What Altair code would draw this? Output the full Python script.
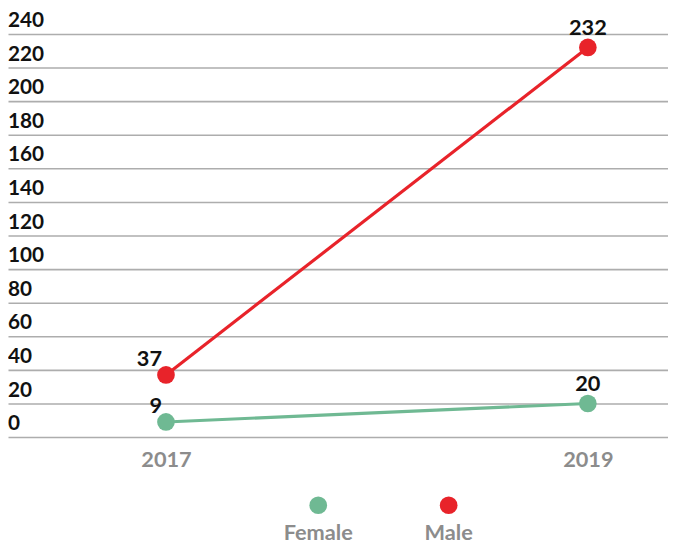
import altair as alt
import pandas as pd

years = [2017, 2019]
female = [9, 20]
male = [37, 232]
series = ["Female", "Male"]
y_ticks = [0, 20, 40, 60, 80, 100, 120, 140, 160, 180, 200, 220, 240]

GREEN = "#6fb993"
RED = "#e8232a"
FONT = "Lato"

df = pd.DataFrame(
    [{"year": y, "value": v, "series": "Female"} for y, v in zip(years, female)]
    + [{"year": y, "value": v, "series": "Male"} for y, v in zip(years, male)]
)
tick_df = pd.DataFrame({"value": y_ticks})
leg_df = pd.DataFrame({"series": series})

color = alt.Color("series:N", scale=alt.Scale(domain=series, range=[GREEN, RED]), legend=None)
x = alt.X(
    "year:Q",
    scale=alt.Scale(domain=[2016.251, 2019.38], nice=False, zero=False),
    axis=alt.Axis(values=years, format="d", title=None, grid=False, domain=False, ticks=False,
                  labelFont=FONT, labelFontSize=22, labelFontWeight="bold", labelColor="#8c8c8c",
                  labelPadding=13),
)
y = alt.Y(
    "value:Q",
    scale=alt.Scale(domain=[0, 240], nice=False),
    axis=alt.Axis(values=y_ticks, grid=True, labels=False, ticks=False, domain=False, title=None,
                  gridColor="#adadad", gridWidth=1.6),
)

base = alt.Chart(df)
lines = base.mark_line(strokeWidth=3.2).encode(x=x, y=y, color=color)
points = base.mark_circle(size=320, opacity=1).encode(x=x, y=y, color=color)
lab_a = base.transform_filter("datum.year == 2017").mark_text(
    align="right", baseline="alphabetic", dx=-4, dy=-9, font=FONT, fontSize=22, fontWeight="bold", color="#111111"
).encode(x=x, y=y, text="value:Q")
lab_b = base.transform_filter("datum.year == 2019").mark_text(
    align="center", baseline="alphabetic", dy=-13, font=FONT, fontSize=22, fontWeight="bold", color="#111111"
).encode(x=x, y=y, text="value:Q")
ylabels = alt.Chart(tick_df).mark_text(
    align="left", baseline="alphabetic", dy=-7, font=FONT, fontSize=21, fontWeight="bold", color="#111111"
).encode(x=alt.value(0), y=y, text="value:Q")

main = alt.layer(lines, points, lab_a, lab_b, ylabels)

leg_x = alt.X("series:N", scale=alt.Scale(domain=series, range=[314, 446], padding=0), axis=None)
leg_pts = alt.Chart(leg_df).mark_circle(size=320, opacity=1).encode(x=leg_x, y=alt.value(477), color=color)
leg_txt = alt.Chart(leg_df).mark_text(
    align="center", baseline="alphabetic", font=FONT, fontSize=22, fontWeight="bold", color="#8c8c8c"
).encode(x=leg_x, y=alt.value(512), text="series:N")
legend = alt.layer(leg_pts, leg_txt)

chart = alt.layer(main, legend).resolve_scale(x="independent").properties(
    width=668,
    height=408,
    autosize=alt.AutoSizeParams(type="none"),
    padding={"left": 0, "top": 23, "right": 0, "bottom": 110},
).configure_view(stroke=None)

chart.save("out.html", embed_options={"renderer": "svg", "actions": False})
